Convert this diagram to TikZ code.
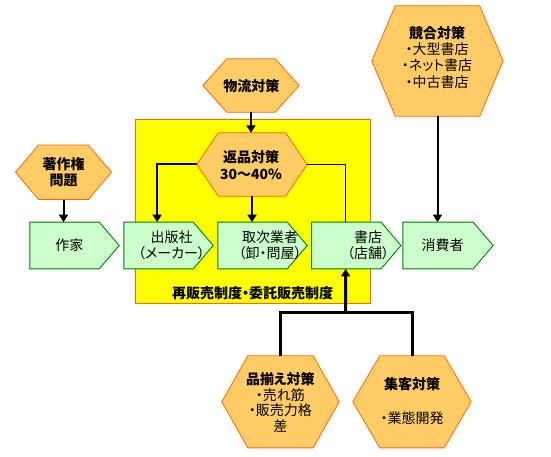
\documentclass[tikz,border=0pt]{standalone}
\usepackage{fontspec}
\setmainfont{Noto Sans CJK JP}[RawFeature=+palt]
\usetikzlibrary{arrows.meta,calc}
\pgfdeclarelayer{bg}\pgfdeclarelayer{mid}\pgfsetlayers{bg,mid,main}
\definecolor{hexfill}{HTML}{FFCC66}
\definecolor{hexline}{HTML}{FF6600}
\definecolor{pentfill}{HTML}{CCFFCC}
\definecolor{pentline}{HTML}{008000}
\definecolor{yel}{HTML}{FFFF00}
\newcommand\hexdraw[2]{\begin{pgfonlayer}{mid}\filldraw[hexsty] (#1.west) -- ([xshift=#2]#1.north west) -- ([xshift=-#2]#1.north east) -- (#1.east) -- ([xshift=-#2]#1.south east) -- ([xshift=#2]#1.south west) -- cycle;\end{pgfonlayer}}
\newcommand\pentdraw[1]{\begin{pgfonlayer}{mid}\filldraw[pentsty] (#1.north west) -- ([xshift=-20pt]#1.north east) -- (#1.east) -- ([xshift=-20pt]#1.south east) -- (#1.south west) -- cycle;\end{pgfonlayer}}
\begin{document}
\begin{tikzpicture}[x=1pt,y=-1pt,
  hexsty/.style={fill=hexfill,draw=hexline,line width=0.8pt},
  pentsty/.style={fill=pentfill,draw=pentline,line width=0.9pt},
  box/.style={draw=none,inner sep=0pt,minimum width=#1},
  pentbox/.style={draw=none,inner sep=0pt,minimum width=89pt,minimum height=46.4pt},
  lbl/.style={font=\fontsize{14}{16}\selectfont,align=center,inner sep=0pt},
  lblb/.style={lbl,font=\fontsize{14}{16.3}\selectfont\bfseries},
  arr/.style={line width=2pt,-{Triangle[length=7.5pt,width=9pt]}},
  arrb/.style={line width=3pt,-{Triangle[length=7.5pt,width=9pt]}},
  barline/.style={line width=3pt,line join=miter},
  thinline/.style={line width=1pt}]
\useasboundingbox (0,0) rectangle (551,457);
% yellow region
\begin{pgfonlayer}{bg}
\filldraw[fill=yel,draw=hexline,line width=1pt] (135,120) rectangle (370.5,303);
\end{pgfonlayer}
\node[lblb] (seido) at (252.7,293.3) {再販売制度・委託販売制度};
% hexagons
\node[box=95.6pt,minimum height=54pt] (chosaku) at (63.5,172.3) {}; \hexdraw{chosaku}{23pt}
\node[box=96pt,minimum height=53pt] (butsuryu) at (251,85.5) {}; \hexdraw{butsuryu}{24pt}
\node[box=110pt,minimum height=63pt] (henpin) at (252,164.5) {}; \hexdraw{henpin}{21.5pt}
\node[box=131pt,minimum height=110pt] (kyogo) at (437.5,61) {}; \hexdraw{kyogo}{23.5pt}
\node[box=117pt,minimum height=91.7pt] (shina) at (280.5,401.8) {}; \hexdraw{shina}{26pt}
\node[box=118pt,minimum height=91.7pt] (shuka) at (412,401.8) {}; \hexdraw{shuka}{27pt}
\node[lblb] (chosakuT) at (63.7,172.3) {著作権\\問題};
\node[lblb] (butsuryuT) at (251.3,86) {物流対策};
\node[lblb] (henpinT) at (251,165) {返品対策\\30〜40\%};
\node[lbl,font=\fontsize{14}{16.3}\selectfont] (kyogoT) at (437,57.2) {\textbf{競合対策}\\・大型書店\\・ネット書店\\・中古書店};
\node[lbl,font=\fontsize{14}{15.6}\selectfont] (shinaT) at (280.3,402.6) {\textbf{品揃え対策}\\・売れ筋\\・販売力格\\差};
\node[lbl] (shukaT) at (412,401) {\textbf{集客対策}\\[17.4pt]・業態開発};
% pentagons
\node[pentbox] (sakka) at (74.5,245.5) {}; \pentdraw{sakka}
\node[pentbox] (shuppan) at (168.5,245.5) {}; \pentdraw{shuppan}
\node[pentbox] (toritsugi) at (262.5,245.5) {}; \pentdraw{toritsugi}
\node[pentbox] (shoten) at (356.3,245.5) {}; \pentdraw{shoten}
\node[pentbox,minimum width=90pt] (shohi) at (448,245.5) {}; \pentdraw{shohi}
\node[lbl] (sakkaT) at (69.3,245.5) {作家};
\node[lbl] (shuppanT) at (171.5,245.3) {出版社\\（メーカー）};
\node[lbl] (toritsugiT) at (270,245.3) {取次業者\\（卸・問屋）};
\node[lbl] (shotenT) at (368,245.3) {書店\\（店舗）};
\node[lbl] (shohiT) at (442.5,245.5) {消費者};
% connectors
\coordinate (pubin) at ($(shuppan.north west)+(33.3pt,0)$);
\coordinate (shopin) at ($(shoten.north west)+(34pt,0)$);
\coordinate (shopout) at ($(shoten.south west)+(34pt,0)$);
\coordinate (jn) at (345.7,312.3);
\draw[arr] (chosaku.south) -- (chosaku.south |- sakka.north);
\draw[arr] (butsuryu.south) -- (butsuryu.south |- henpin.north);
\draw[arr] (henpin.west) -| (pubin);
\draw[arr] (henpin.south) -- (henpin.south |- toritsugi.north);
\draw[thinline] (henpin.east) -| (shopin);
\draw[arr] (kyogo.south) -- (kyogo.south |- shohi.north);
\draw[barline] (shina.north) |- (jn) -| (shuka.north);
\draw[arrb] (jn) -- (shopout);
\end{tikzpicture}
\end{document}
